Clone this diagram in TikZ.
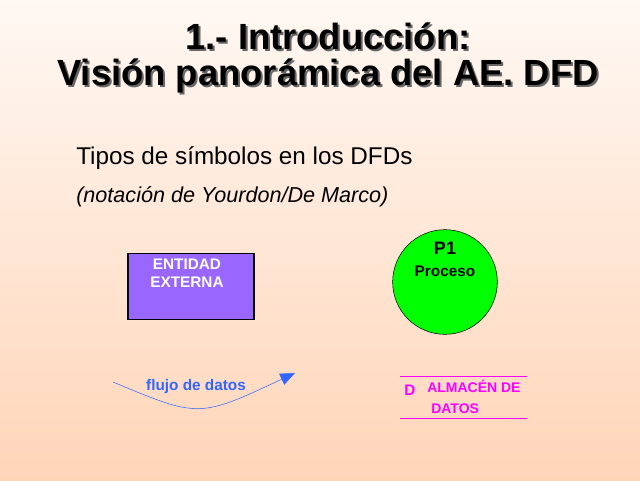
\documentclass[tikz,border=0pt]{standalone}
\usepackage{fontspec}
\setmainfont{Liberation Sans}
\usepackage{tikz}
\usetikzlibrary{arrows.meta,shapes}

\definecolor{bgtop}{HTML}{FFF8F3}
\definecolor{bgbottom}{HTML}{FFD5B8}
\definecolor{entidad}{HTML}{9966FF}
\definecolor{flujo}{HTML}{3366FF}
\definecolor{almacen}{HTML}{FF00FF}

\tikzset{
  titulo/.style = {font=\fontsize{27.3}{27}\selectfont\bfseries, inner sep=0pt, align=center},
  sombra/.style = {titulo, text=black!60},
  etiqueta/.style = {font=\fontsize{11.5}{13.5}\selectfont\bfseries, inner sep=0pt}
}

\begin{document}
\begin{tikzpicture}[x=0.75pt,y=-0.75pt]
\shade[top color=bgtop, bottom color=bgbottom] (0,0) rectangle (640,480);
\useasboundingbox (0,0) rectangle (640,480);

% titulo con sombra
\node[sombra] at (330,60) {1.- Introducción:\\Visión panorámica del AE. DFD};
\node[titulo] (tit) at (328,58) {1.- Introducción:\\Visión panorámica del AE. DFD};

\node[anchor=base west, inner sep=0pt, font=\fontsize{18.2}{22}\selectfont] (tipos) at (76,164) {Tipos de símbolos en los DFDs};
\node[anchor=base west, inner sep=0pt, font=\fontsize{16.2}{19}\selectfont\itshape] (notacion) at (76,202) {(notación de Yourdon/De Marco)};

% entidad externa
\node[draw=black, thick, fill=entidad, minimum width=94.5pt, minimum height=50pt, inner sep=0pt] (ent) at (191,286.5) {};
\node[etiqueta, text=white, align=center, anchor=north] (entxt) at (187,259) {ENTIDAD\\EXTERNA};

% proceso
\node[circle, draw=black, fill=green, minimum size=78.5pt, inner sep=0pt] (p1) at (445,282) {};
\node[font=\fontsize{13.5}{15}\selectfont\bfseries, inner sep=0pt] (p1num) at (445,248) {P1};
\node[etiqueta] (p1txt) at (445,271) {Proceso};

% flujo de datos
\coordinate (fini) at (113,382);
\coordinate (ffin) at (295,373);
\draw[flujo, -{Triangle[length=11pt,width=9pt]}] (fini) .. controls (199,418) .. (ffin);
\node[etiqueta, text=flujo] (ftxt) at (196,387) {flujo de datos};

% almacen
\coordinate (al1) at (400,376);
\coordinate (ar1) at (527,376);
\coordinate (al2) at (400,418);
\coordinate (ar2) at (527,418);
\draw[almacen] (al1) -- (ar1);
\draw[almacen] (al2) -- (ar2);
\node[etiqueta, text=almacen] (dlet) at (410,390) {D};
\node[etiqueta, font=\fontsize{10.5}{15.5}\selectfont\bfseries, text=almacen, align=left, anchor=north west] (atxt) at (427,380) {ALMACÉN DE\\\hspace*{3pt}DATOS};

\end{tikzpicture}
\end{document}
